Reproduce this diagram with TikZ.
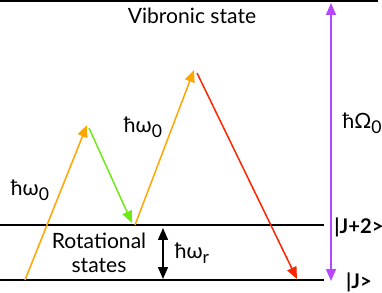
\documentclass[tikz,border=0pt]{standalone}
\usepackage{fontspec}
\setmainfont{Lato}
\usetikzlibrary{arrows.meta, positioning}
\definecolor{PumpOrange}{RGB}{255,165,0}
\definecolor{StokesGreen}{RGB}{110,235,20}
\definecolor{AntiRed}{RGB}{255,35,0}
\definecolor{GapPurple}{RGB}{185,70,255}
\newcommand{\lowsub}[1]{\raisebox{-0.45ex}{\fontsize{10}{12}\selectfont #1}}

\begin{document}
\begin{tikzpicture}[
  x=0.02cm, y=-0.02cm,
  level/.style={draw=black, line width=1pt},
  photon/.style={-{Triangle[length=2.4mm, width=2mm]}, line width=0.85pt},
  gap/.style={{Triangle[length=2.4mm, width=2mm]}-{Triangle[length=2.4mm, width=2mm]}, line width=0.85pt},
  lbl/.style={font=\fontsize{12}{14}\selectfont, inner sep=0pt, align=center},
  ket/.style={font=\bfseries\fontsize{11.5}{13}\selectfont, inner sep=0pt}
]
\useasboundingbox (0,0) rectangle (382,293);
% energy levels
\coordinate (vibL) at (0,1);
\coordinate (vibR) at (378,1);
\coordinate (upL) at (0,225);
\coordinate (upR) at (324,225);
\coordinate (lowL) at (0,280);
\coordinate (lowR) at (324,280);
\draw[level] (vibL) -- (vibR);
\draw[level] (upL) -- (upR);
\draw[level] (lowL) -- (lowR);

% transition end points
\coordinate (start) at (25,280);
\coordinate (peakA) at (87,125);
\coordinate (greenA) at (89,128);
\coordinate (greenB) at (132,223);
\coordinate (restart) at (135,225);
\coordinate (peakB) at (194,70);
\coordinate (redA) at (197,73);
\coordinate (redB) at (297,279);
\coordinate (rotTop) at (163,228);
\coordinate (rotBot) at (163,279);
\coordinate (vibTop) at (331,3);
\coordinate (vibBot) at (331,281);

\draw[photon, PumpOrange] (start) -- (peakA);
\draw[photon, StokesGreen] (greenA) -- (greenB);
\draw[photon, PumpOrange] (restart) -- (peakB);
\draw[photon, AntiRed] (redA) -- (redB);
\draw[gap, black] (rotTop) -- (rotBot);
\draw[gap, GapPurple] (vibTop) -- (vibBot);

% labels
\node[lbl] (vibronic) at (192,16) {Vibronic state};
\node[lbl] (rotational) at (99,253) {Rotational\\states};
\node[lbl] (pumpA) at (30,190) {ħω\lowsub{0}};
\node[lbl] (pumpB) at (143,127) {ħω\lowsub{0}};
\node[lbl] (omegaR) at (192,253) {ħω\lowsub{r}};
\node[lbl] (omegaBig) at (362,123) {ħΩ\lowsub{0}};
\node[ket] (ketUp) at (359,227) {|J+2>};
\node[ket] (ketLow) at (359,282) {|J>};
\end{tikzpicture}
\end{document}
